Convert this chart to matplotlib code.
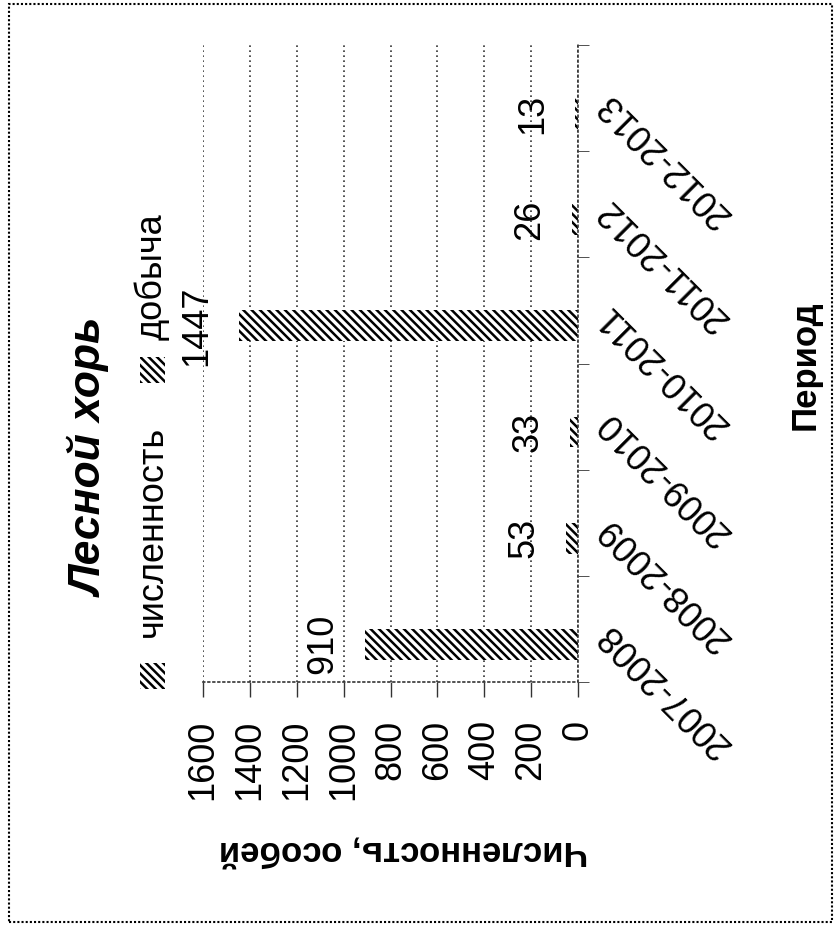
import matplotlib.pyplot as plt
import numpy as np
from matplotlib.patches import Rectangle

# data (the whole chart is turned 90 degrees)
periods = ['2007-2008', '2008-2009', '2009-2010', '2010-2011', '2011-2012', '2012-2013']
chislennost = [910, 53, 33, 1447, 26, 13]
legend_names = ['численность', 'добыча']
value_ticks = [0, 200, 400, 600, 800, 1000, 1200, 1400, 1600]

plt.rcParams['font.family'] = ['Liberation Sans', 'DejaVu Sans']
plt.rcParams['hatch.linewidth'] = 1.8

W, H = 834, 933
fig = plt.figure(figsize=(W / 100, H / 100), dpi=100)


def fx(px):
    # pixel column -> figure fraction
    return px / W


def fy(py):
    # pixel row -> figure fraction
    return 1 - py / H


ax = fig.add_axes([fx(203), fy(682), (578 - 203) / W, (682 - 45) / H])

pos = np.arange(len(periods))
bar_h = 0.29
hatch = '\\\\\\\\'
ax.barh(pos - bar_h / 2, chislennost, height=bar_h, color='white',
        edgecolor='black', linewidth=0, hatch=hatch)

ax.set_xlim(1600, 0)
ax.set_ylim(-0.5, len(periods) - 0.5)

grid_col = '#333333'
ax.set_xticks(value_ticks)
ax.set_xticklabels([str(v) for v in value_ticks], rotation=90, fontsize=26)
ax.tick_params(axis='x', direction='out', length=11, width=1, color=grid_col, pad=16)
ax.grid(axis='x', color=grid_col, linestyle=(0, (1, 2)), linewidth=1.2)
ax.set_axisbelow(True)

# category axis on the right side
ax.yaxis.tick_right()
ax.set_yticks(pos)
ax.set_yticklabels(periods, fontsize=26)
ax.set_yticks(np.arange(-0.5, len(periods)), minor=True)
ax.tick_params(axis='y', which='major', length=0, pad=18)
ax.tick_params(axis='y', which='minor', direction='out', length=8, color=grid_col)
for lbl in ax.get_yticklabels():
    lbl.set_rotation(135)
    lbl.set_rotation_mode('anchor')
    lbl.set_ha('right')
    lbl.set_va('center')

for side in ['top', 'left']:
    ax.spines[side].set_visible(False)
for side in ['bottom', 'right']:
    ax.spines[side].set_linestyle((0, (1, 2)))
    ax.spines[side].set_linewidth(1.2)
    ax.spines[side].set_color(grid_col)

# value labels next to the bar ends
for v, p in zip(chislennost, pos):
    ax.annotate(str(v), xy=(v, p - bar_h / 2), xytext=(-42, 0),
                textcoords='offset pixels', rotation=90,
                ha='center', va='center', fontsize=26)

# title and axis titles
fig.text(fx(90), fy(458), 'Лесной хорь', rotation=90, fontsize=32,
         fontweight='bold', fontstyle='italic', ha='center', va='center')
fig.text(fx(403), fy(850), 'Численность, особей', rotation=180, fontsize=25,
         fontweight='bold', ha='center', va='center')
fig.text(fx(805), fy(365), 'Период', rotation=90, fontsize=25,
         fontweight='bold', ha='center', va='center')

# legend drawn by hand because the text is turned
legend_marks = [(663, 531), (357, 277)]
for name, (mark_top, text_mid) in zip(legend_names, legend_marks):
    fig.add_artist(Rectangle((fx(140), fy(mark_top + 26)), 25 / W, 26 / H,
                             transform=fig.transFigure, facecolor='white',
                             edgecolor='black', linewidth=0, hatch=hatch))
    fig.text(fx(152), fy(text_mid), name, rotation=90, fontsize=26,
             ha='center', va='center')

# dotted frame of the chart area
fig.add_artist(Rectangle((fx(9), fy(922)), (832 - 9) / W, (922 - 4) / H,
                         transform=fig.transFigure, fill=False,
                         edgecolor='black', linestyle=(0, (1, 1)), linewidth=1.5))

fig.savefig('out.png', dpi=100)
